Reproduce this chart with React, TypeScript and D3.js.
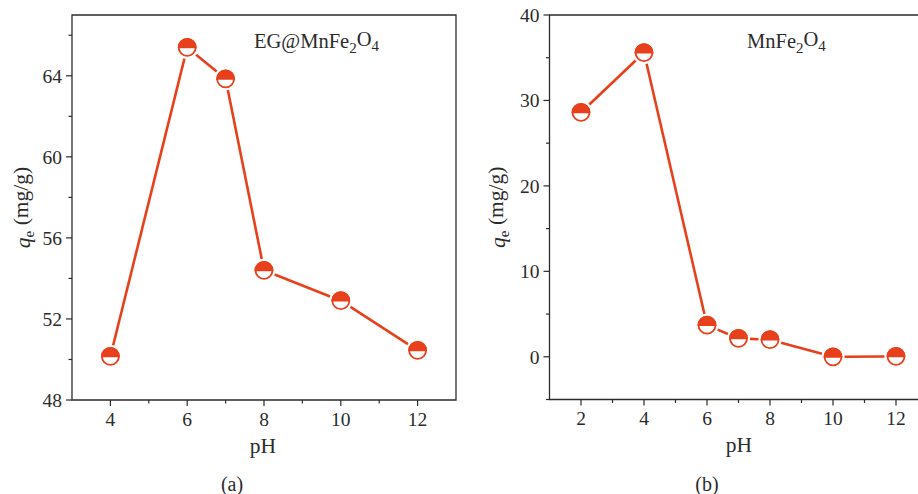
import React from "react";
import * as d3 from "d3";

const phA = [4, 6, 7, 8, 10, 12];
const qeA = [50.15, 65.4, 63.85, 54.4, 52.9, 50.45];
const phB = [2, 4, 6, 7, 8, 10, 12];
const qeB = [28.6, 35.6, 3.7, 2.15, 2.0, 0.0, 0.05];

const yTicksA = [48, 52, 56, 60, 64];
const yMinorA = [50, 54, 58, 62, 66];
const xTicksA = [4, 6, 8, 10, 12];
const xMinorA = [5, 7, 9, 11];
const yTicksB = [0, 10, 20, 30, 40];
const yMinorB = [-5, 5, 15, 25, 35];
const xTicksB = [2, 4, 6, 8, 10, 12];
const xMinorB = [3, 5, 7, 9, 11];

const RED = "#e8401c";
const INK = "#2b2b2b";
const FONT = "'Liberation Serif', 'Times New Roman', serif";
const R = 8.5;

type PanelProps = {
  xs: number[];
  ys: number[];
  xDomain: [number, number];
  yDomain: [number, number];
  left: number;
  right: number;
  top: number;
  bottom: number;
  yTicks: number[];
  yMinor: number[];
  xTicks: number[];
  xMinor: number[];
  label: string;
  labelX: number;
  caption: string;
  captionX: number;
  yTitleX: number;
  compound: React.ReactNode;
  compoundX: number;
};

function Panel(p: PanelProps) {
  const x = d3.scaleLinear().domain(p.xDomain).range([p.left, p.right]);
  const y = d3.scaleLinear().domain(p.yDomain).range([p.bottom, p.top]);
  const pts = p.xs.map((v, i) => [x(v), y(p.ys[i])] as [number, number]);
  const gap = R + 3;
  const segs: [number, number][][] = [];
  for (let i = 0; i < pts.length - 1; i++) {
    const [x1, y1] = pts[i];
    const [x2, y2] = pts[i + 1];
    const len = Math.hypot(x2 - x1, y2 - y1);
    if (len <= 2 * gap) continue;
    const ux = (x2 - x1) / len;
    const uy = (y2 - y1) / len;
    segs.push([
      [x1 + ux * gap, y1 + uy * gap],
      [x2 - ux * gap, y2 - uy * gap],
    ]);
  }
  const line = d3.line();
  const halfTop = (cx: number, cy: number) =>
    `M${cx - R},${cy} A${R},${R} 0 0 1 ${cx + R},${cy} Z`;
  const midY = (p.top + p.bottom) / 2;
  return (
    <g>
      <path
        d={`M${p.left},${p.bottom} V${p.top} H${p.right} V${p.bottom} Z`}
        fill="none"
        stroke={INK}
        strokeWidth={1.3}
      />
      {p.yTicks.map((t) => (
        <g key={"y" + t}>
          <line x1={p.left - 6} x2={p.left} y1={y(t)} y2={y(t)} stroke={INK} strokeWidth={1.2} />
          <text
            x={p.left - 10}
            y={y(t)}
            dy="0.35em"
            textAnchor="end"
            fontSize={19.5}
            fill={INK}
            fontFamily={FONT}
          >
            {t}
          </text>
        </g>
      ))}
      {p.yMinor.map((t) => (
        <line key={"ym" + t} x1={p.left - 3.5} x2={p.left} y1={y(t)} y2={y(t)} stroke={INK} strokeWidth={1.2} />
      ))}
      {p.xTicks.map((t) => (
        <g key={"x" + t}>
          <line x1={x(t)} x2={x(t)} y1={p.bottom} y2={p.bottom + 6} stroke={INK} strokeWidth={1.2} />
          <text
            x={x(t)}
            y={p.bottom + 19}
            dy="0.35em"
            textAnchor="middle"
            fontSize={19.5}
            fill={INK}
            fontFamily={FONT}
          >
            {t}
          </text>
        </g>
      ))}
      {p.xMinor.map((t) => (
        <line key={"xm" + t} x1={x(t)} x2={x(t)} y1={p.bottom} y2={p.bottom + 3.5} stroke={INK} strokeWidth={1.2} />
      ))}
      <text
        x={p.labelX}
        y={p.bottom + 45}
        dy="0.35em"
        textAnchor="middle"
        fontSize={21.5}
        fill={INK}
        fontFamily={FONT}
      >
        {p.label}
      </text>
      <text
        x={p.captionX}
        y={p.bottom + 84}
        dy="0.35em"
        textAnchor="middle"
        fontSize={20}
        fill={INK}
        fontFamily={FONT}
      >
        {p.caption}
      </text>
      <text
        transform={`translate(${p.yTitleX},${midY}) rotate(-90)`}
        textAnchor="middle"
        dy="0.35em"
        fontSize={21.5}
        fill={INK}
        fontFamily={FONT}
      >
        <tspan fontStyle="italic">q</tspan>
        <tspan fontSize={15} dy="0.3em">e</tspan>
        <tspan dy="-0.3em"> (mg/g)</tspan>
      </text>
      <text x={p.compoundX} y={p.top + 33} fontSize={20.5} fill={INK} fontFamily={FONT}>
        {p.compound}
      </text>
      {segs.map((s, i) => (
        <path key={"s" + i} d={line(s) || ""} stroke={RED} strokeWidth={2.6} fill="none" />
      ))}
      {pts.map(([cx, cy], i) => (
        <g key={"m" + i}>
          <circle cx={cx} cy={cy} r={R} fill="#ffffff" stroke={RED} strokeWidth={1.8} />
          <path d={halfTop(cx, cy)} fill={RED} stroke={RED} strokeWidth={1.8} />
        </g>
      ))}
    </g>
  );
}

const Sub = ({ t }: { t: string }) => (
  <tspan fontSize={15} dy="0.3em">
    {t}
  </tspan>
);

export default function App() {
  return (
    <svg
      width={918}
      height={494}
      style={{ position: "absolute", left: 0, top: 0, background: "#fff" }}
    >
      <rect width={918} height={494} fill="#fff" />
      <Panel
        xs={phA}
        ys={qeA}
        xDomain={[3, 13]}
        yDomain={[48, 67]}
        left={72}
        right={456}
        top={15}
        bottom={400}
        yTicks={yTicksA}
        yMinor={yMinorA}
        xTicks={xTicksA}
        xMinor={xMinorA}
        label="pH"
        labelX={263}
        caption="(a)"
        captionX={232}
        yTitleX={22}
        compoundX={254}
        compound={
          <>
            <tspan>EG@MnFe</tspan>
            <Sub t="2" />
            <tspan dy="-0.3em">O</tspan>
            <Sub t="4" />
          </>
        }
      />
      <Panel
        xs={phB}
        ys={qeB}
        xDomain={[1, 13]}
        yDomain={[-5, 40]}
        left={549.5}
        right={927.5}
        top={15}
        bottom={399.5}
        yTicks={yTicksB}
        yMinor={yMinorB}
        xTicks={xTicksB}
        xMinor={xMinorB}
        label="pH"
        labelX={739}
        caption="(b)"
        captionX={707}
        yTitleX={497}
        compoundX={747}
        compound={
          <>
            <tspan>MnFe</tspan>
            <Sub t="2" />
            <tspan dy="-0.3em">O</tspan>
            <Sub t="4" />
          </>
        }
      />
    </svg>
  );
}
